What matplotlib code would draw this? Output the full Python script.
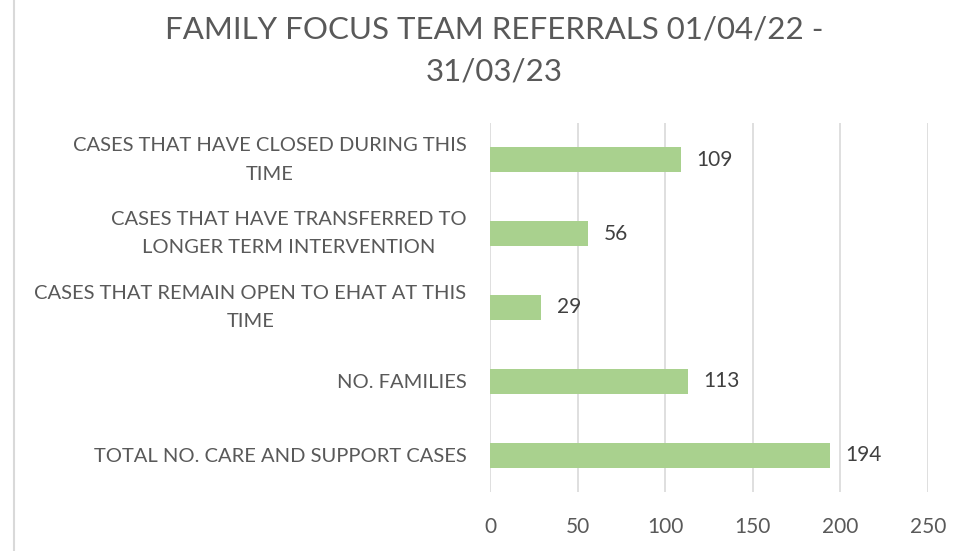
import matplotlib
matplotlib.use("Agg")
import matplotlib.pyplot as plt
import matplotlib.transforms as mtransforms
from matplotlib.lines import Line2D

categories = [
    "TOTAL NO. CARE AND SUPPORT CASES",
    "NO. FAMILIES",
    "CASES THAT REMAIN OPEN TO EHAT AT THIS\nTIME",
    "CASES THAT HAVE TRANSFERRED TO\nLONGER TERM INTERVENTION",
    "CASES THAT HAVE CLOSED DURING THIS\nTIME",
]
values = [194, 113, 29, 56, 109]
x_ticks = [0, 50, 100, 150, 200, 250]
title = "FAMILY FOCUS TEAM REFERRALS 01/04/22 -\n31/03/23"

text_color = "#595959"
bar_color = "#A9D18E"
grid_color = "#D9D9D9"
plt.rcParams["font.family"] = ["Lato", "DejaVu Sans"]

fig = plt.figure(figsize=(9.56, 5.51), dpi=100)
ax = fig.add_axes([0.5126, 0.1071, 0.9707 - 0.5126, 0.7768 - 0.1071])

ypos = list(range(len(categories)))
ax.barh(ypos, values, height=0.34, color=bar_color, zorder=3)
for y, v in zip(ypos, values):
    ax.text(v + 9, y, str(v), va="center", ha="left", fontsize=15, color="#404040")

ax.set_xlim(0, 250)
ax.set_ylim(-0.5, len(categories) - 0.5)
ax.set_xticks(x_ticks)
ax.set_xticklabels([str(t) for t in x_ticks], fontsize=15, color=text_color)
ax.set_yticks(ypos)
ax.set_yticklabels(categories, fontsize=14.5, color=text_color, ha="right",
                   multialignment="center", linespacing=1.8)
ax.tick_params(axis="both", length=0)
ax.tick_params(axis="x", pad=18)
ax.tick_params(axis="y", pad=17)

# nudge two-line category labels so both lines sit evenly around the bar
lift = mtransforms.ScaledTranslation(0, 5 / 72, fig.dpi_scale_trans)
for lbl in ax.get_yticklabels():
    if "\n" in lbl.get_text():
        lbl.set_transform(lbl.get_transform() + lift)

ax.grid(axis="x", color=grid_color, linewidth=1.2, zorder=0)
for s in ax.spines.values():
    s.set_visible(False)

fig.text(0.517, 0.971, title, ha="center", va="top", fontsize=22.5, color=text_color, linespacing=1.58)

fig.add_artist(Line2D([14 / 956, 14 / 956], [0, 1], transform=fig.transFigure, color="#D9D9D9", linewidth=1.5))

fig.savefig("out.png", dpi=100)
